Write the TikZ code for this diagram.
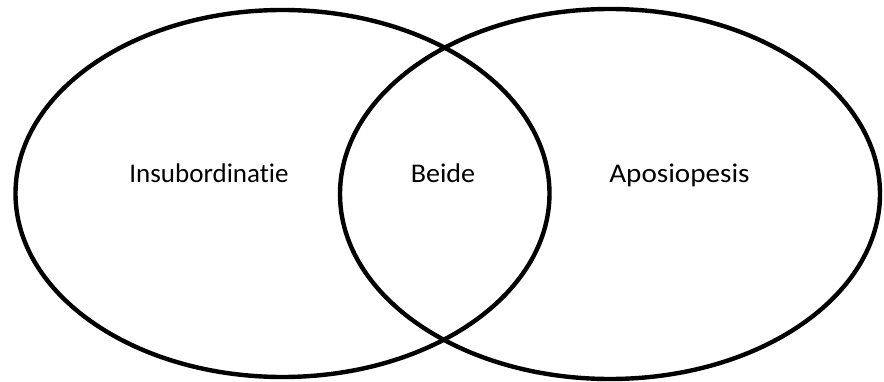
\documentclass[tikz,border=0pt]{standalone}
\usepackage{fontspec}
\usepackage{graphicx}
\setmainfont[RawFeature=-liga]{Carlito}
\begin{document}
\begin{tikzpicture}[x=1pt,y=-1pt,
  venn/.style={draw=black,line width=4.4pt},
  lbl/.style={font=\fontsize{27}{32}\selectfont,anchor=base,inner sep=0pt}]
\useasboundingbox (0,0) rectangle (884,382);
\draw[venn] (282.5,193.5) ellipse [x radius=267, y radius=183.5];
\draw[venn] (610,194) ellipse [x radius=270, y radius=185];
\node[lbl] (ins) at (209,183) {Insubordinatie};
\node[lbl] (bei) at (443,183) {\scalebox{1.04}[1]{Beide}};
\node[lbl] (apo) at (679.5,183) {\scalebox{1.08}[1]{Aposiopesis}};
\end{tikzpicture}
\end{document}
